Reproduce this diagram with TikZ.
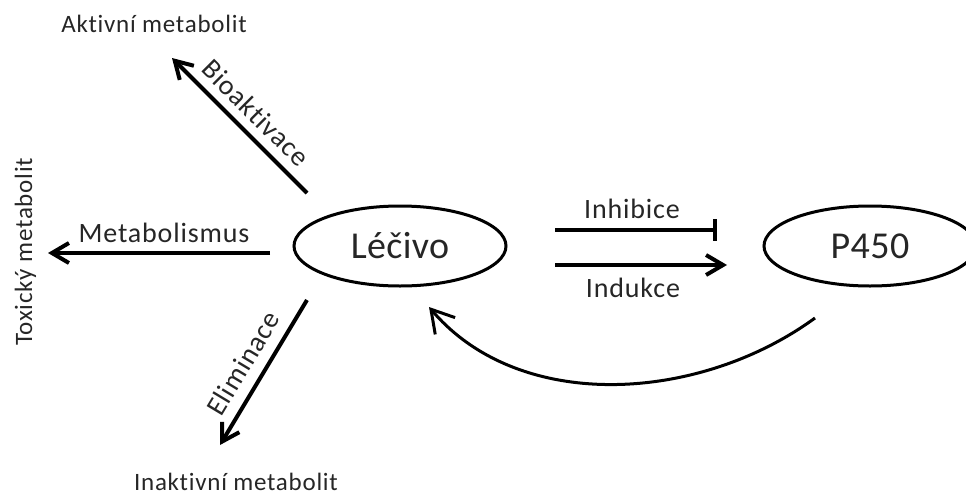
\documentclass[tikz,border=0pt]{standalone}
\usepackage{fontspec}
\setmainfont{Carlito}[Ligatures=NoCommon, LetterSpace=3.0]
\usetikzlibrary{arrows.meta,calc,shapes.geometric}
\begin{document}
\begin{tikzpicture}[x=1pt,y=-1pt,
  blob/.style={ellipse, draw, line width=3pt, minimum width=212pt, minimum height=80pt,
    inner sep=0pt, text=black!85,
    font=\fontsize{38}{40}\selectfont\addfontfeatures{LetterSpace=1.0}},
  flow/.style={line width=4pt, -{Straight Barb[length=17pt,width=20pt]}},
  blocker/.style={line width=4pt, -{Bar[width=22pt]}},
  feedback/.style={line width=3pt, -{Straight Barb[length=22pt,width=26pt]}},
  lab/.style={font=\fontsize{28}{30}\selectfont, inner sep=0pt, text=black!85},
  prod/.style={font=\fontsize{25}{27}\selectfont, inner sep=0pt, text=black!85}]
\useasboundingbox (0,0) rectangle (966,490);

% main players
\node[blob] (lek) at (400,246) {Léčivo};
\node[blob] (p450) at (870,246) {P450};

% products of the drug
\node[prod, anchor=base] (aktiv) at (154,32) {Aktivní metabolit};
\node[prod, anchor=base, rotate=90] (toxic) at (32,252) {Toxický metabolit};
\node[prod, anchor=base] (inakt) at (236,490) {Inaktivní metabolit};

% arrow end points
\coordinate (bioS) at (307,193);  \coordinate (bioT) at (172,58);
\coordinate (metS) at (270,253);  \coordinate (metT) at (48,253);
\coordinate (eliS) at (307,300);  \coordinate (eliT) at (220,445);
\coordinate (inhS) at (555,230);  \coordinate (inhT) at (717,230);
\coordinate (indS) at (555,265);  \coordinate (indT) at (727,265);
\coordinate (loopS) at (815,318); \coordinate (loopT) at (429,307);

% pathways
\draw[flow] (bioS) -- (bioT);
\draw[flow] (metS) -- (metT);
\draw[flow] (eliS) -- (eliT);
\draw[blocker] (inhS) -- (inhT);
\draw[flow] (indS) -- (indT);
\draw[feedback] (loopS) .. controls (700,402) and (520,414) .. (loopT);

% pathway labels
\node[lab, rotate=-45] (bioL) at (256,113) {Bioaktivace};
\node[lab, anchor=base] (metL) at (164,242) {Metabolismus};
\node[lab, rotate=59] (eliL) at (243,363) {Eliminace};
\node[lab, anchor=base] (inhL) at (632,218) {Inhibice};
\node[lab, anchor=base] (indL) at (633,297) {Indukce};
\end{tikzpicture}
\end{document}
